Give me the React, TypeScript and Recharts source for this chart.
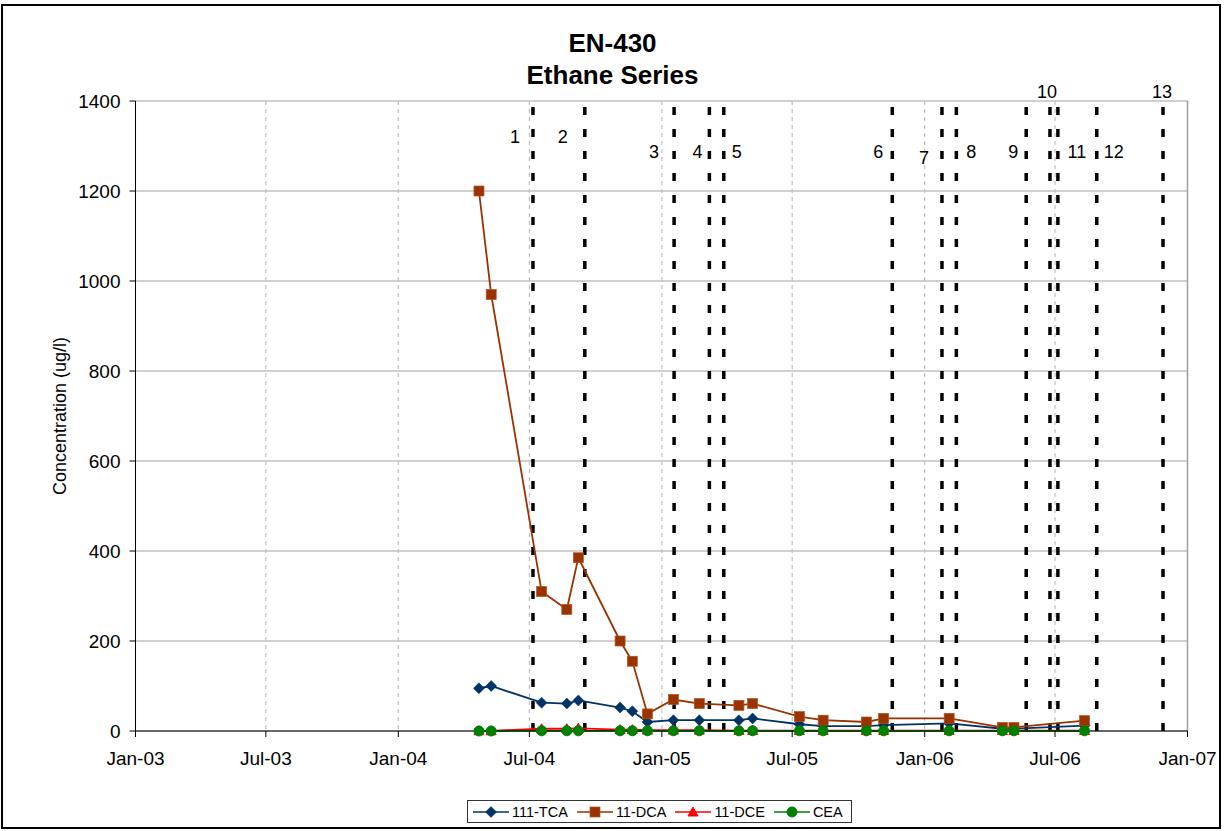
import React from 'react';
import { LineChart, Line, XAxis, YAxis, CartesianGrid, ReferenceLine, Legend } from 'recharts';

// ---- data ----
const SAMPLE_DATES = [
  '2004-04-22', '2004-05-09', '2004-07-18', '2004-08-22', '2004-09-07',
  '2004-11-04', '2004-11-21', '2004-12-12', '2005-01-17', '2005-02-22',
  '2005-04-18', '2005-05-07', '2005-07-11', '2005-08-13', '2005-10-12',
  '2005-11-05', '2006-02-04', '2006-04-19', '2006-05-05', '2006-08-11',
];
const TCA_111 = [95, 100, 63, 61, 68, 52, 44, 20, 24, 24, 24, 28, 15, 11, 11, 13, 17, 5, 5, 12];
const DCA_11 = [1200, 970, 310, 270, 385, 200, 155, 38, 70, 61, 57, 61, 32, 24, 20, 28, 28, 8, 8, 23];
const DCE_11 = [0.5, 0.5, 5, 5, 6, 3, 3, 2, 2, 2, 1, 1, 1, 1, 1, 1, 1, 1, 1, 1];
const CEA = [0, 0, 0.5, 0.5, 0.5, 0.5, 0.5, 0.5, 0.5, 0.5, 0.5, 0.5, 0.5, 0.5, 0.5, 0.5, 0.5, 0.5, 0.5, 0.5];

const SERIES_KEYS = ['tca', 'dca', 'dce', 'cea'];
const SERIES_NAMES = ['111-TCA', '11-DCA', '11-DCE', 'CEA'];

const X_TICK_DATES = [
  '2003-01-01', '2003-07-01', '2004-01-01', '2004-07-01', '2005-01-01',
  '2005-07-01', '2006-01-01', '2006-07-01', '2007-01-01',
];
const Y_TICKS = [0, 200, 400, 600, 800, 1000, 1200, 1400];

const EVENT_DATES = [
  '2004-07-06', '2004-09-16', '2005-01-18', '2005-03-08', '2005-03-28',
  '2005-11-17', '2006-01-25', '2006-02-14', '2006-05-22', '2006-06-24',
  '2006-07-05', '2006-08-28', '2006-11-28',
];
const EVENT_LABELS = ['1', '2', '3', '4', '5', '6', '7', '8', '9', '10', '11', '12', '13'];

// label placement (layout only)
const EVENT_LABEL_LAYOUT = [
  { dx: -18, y: 137 }, { dx: -22, y: 137 }, { dx: -20, y: 152 }, { dx: -12, y: 152 },
  { dx: 13, y: 152 }, { dx: -14, y: 152 }, { dx: -18, y: 158 }, { dx: 15, y: 152 },
  { dx: -13, y: 152 }, { dx: -3, y: 92 }, { dx: 19, y: 152 }, { dx: 17, y: 152 },
  { dx: -1, y: 92 },
];

const MONTHS = ['Jan', 'Feb', 'Mar', 'Apr', 'May', 'Jun', 'Jul', 'Aug', 'Sep', 'Oct', 'Nov', 'Dec'];
const ts = (s: string) => {
  const [y, m, d] = s.split('-').map(Number);
  return Date.UTC(y, m - 1, d);
};
const fmtTick = (v: number) => {
  const d = new Date(v);
  return `${MONTHS[d.getUTCMonth()]}-${String(d.getUTCFullYear() % 100).padStart(2, '0')}`;
};

const tableData = SAMPLE_DATES.map((d, i) => ({
  t: ts(d),
  tca: TCA_111[i],
  dca: DCA_11[i],
  dce: DCE_11[i],
  cea: CEA[i],
}));

const FONT = 'Liberation Sans, Arial, sans-serif';
const C_TCA = '#003366';
const C_DCA = '#993300';
const C_DCE = '#ff0000';
const C_CEA = '#008000';

const Diamond = ({ cx, cy, color, r = 5.5 }: any) => (
  <path d={`M${cx},${cy - r}L${cx + r},${cy}L${cx},${cy + r}L${cx - r},${cy}Z`} fill={color} stroke={color} strokeWidth={0.5} />
);
const Square = ({ cx, cy, color, r = 5 }: any) => (
  <rect x={cx - r} y={cy - r} width={2 * r} height={2 * r} fill={color} stroke="#b8521f" strokeWidth={0.7} />
);
const Triangle = ({ cx, cy, color, r = 5 }: any) => (
  <path d={`M${cx},${cy - r}L${cx + r},${cy + r * 0.8}L${cx - r},${cy + r * 0.8}Z`} fill={color} stroke={color} />
);
const Circle = ({ cx, cy, color, r = 5 }: any) => <circle cx={cx} cy={cy} r={r} fill={color} stroke={color} />;

const SHAPES: Record<string, any> = { tca: Diamond, dca: Square, dce: Triangle, cea: Circle };
const COLORS: Record<string, string> = { tca: C_TCA, dca: C_DCA, dce: C_DCE, cea: C_CEA };

const makeDot = (key: string) => (props: any) => {
  const { cx, cy, index } = props;
  if (cx == null || cy == null) return <g key={`${key}-${index}`} />;
  const S = SHAPES[key];
  return <S key={`${key}-${index}`} cx={cx} cy={cy} color={COLORS[key]} />;
};

const LegendContent = () => (
  <div
    style={{
      boxSizing: 'border-box',
      border: '1px solid #333',
      background: '#fff',
      height: 23,
      width: 385,
      display: 'flex',
      alignItems: 'center',
      paddingLeft: 5,
      fontFamily: FONT,
      fontSize: 14.5,
      color: '#000',
      whiteSpace: 'nowrap',
    }}
  >
    {SERIES_KEYS.map((key, i) => {
      const S = SHAPES[key];
      return (
        <div key={key} style={{ display: 'flex', alignItems: 'center', marginRight: 9 }}>
          <svg width={36} height={14} style={{ display: 'block' }}>
            <line x1={0} y1={7} x2={36} y2={7} stroke={COLORS[key]} strokeWidth={1.5} />
            <S cx={18} cy={7} color={COLORS[key]} />
          </svg>
          <span style={{ marginLeft: 3 }}>{SERIES_NAMES[i]}</span>
        </div>
      );
    })}
  </div>
);

const EventLabel = (idx: number) => (props: any) => {
  const vb = props.viewBox || {};
  const L = EVENT_LABEL_LAYOUT[idx];
  return (
    <text
      x={(vb.x ?? 0) + L.dx}
      y={L.y}
      textAnchor="middle"
      dominantBaseline="central"
      fontFamily={FONT}
      fontSize={18}
      fill="#000"
    >
      {EVENT_LABELS[idx]}
    </text>
  );
};

const YLabel = (props: any) => {
  const vb = props.viewBox || {};
  const x = 60;
  const y = (vb.y ?? 101) + (vb.height ?? 630) / 2;
  return (
    <text
      x={x}
      y={y}
      transform={`rotate(-90, ${x}, ${y})`}
      textAnchor="middle"
      dominantBaseline="central"
      fontFamily={FONT}
      fontSize={18}
      fill="#000"
    >
      Concentration (ug/l)
    </text>
  );
};

export default function App() {
  return (
    <div style={{ position: 'absolute', left: 0, top: 0, width: 1225, height: 831, background: '#fff' }}>
      <div
        style={{
          position: 'absolute',
          left: 1,
          top: 4,
          width: 1220,
          height: 825,
          border: '2px solid #000',
          boxSizing: 'border-box',
        }}
      />
      <svg width={1225} height={100} style={{ position: 'absolute', left: 0, top: 0 }}>
        <text x={612.5} y={52} textAnchor="middle" fontFamily={FONT} fontWeight="bold" fontSize={26} fill="#000">
          EN-430
        </text>
        <text x={612.5} y={83.5} textAnchor="middle" fontFamily={FONT} fontWeight="bold" fontSize={26} fill="#000">
          Ethane Series
        </text>
      </svg>
      <div style={{ position: 'absolute', left: 0, top: 0 }}>
        <LineChart
          width={1225}
          height={831}
          data={tableData}
          margin={{ top: 101, right: 37.5, bottom: 70, left: 65.5 }}
        >
          <CartesianGrid horizontal vertical={false} stroke="#c0c0c0" strokeWidth={1.5} />
          <CartesianGrid horizontal={false} vertical stroke="#c0c0c0" strokeDasharray="4 4" strokeWidth={1.2} />
          <XAxis
            dataKey="t"
            type="number"
            scale="time"
            domain={[ts(X_TICK_DATES[0]), ts(X_TICK_DATES[X_TICK_DATES.length - 1])]}
            ticks={X_TICK_DATES.map(ts)}
            tickFormatter={fmtTick}
            height={30}
            tickSize={6}
            tickMargin={15}
            stroke="#000"
            tick={{ fill: '#000', fontFamily: FONT, fontSize: 19 }}
            allowDataOverflow
          />
          <YAxis
            type="number"
            domain={[0, 1400]}
            ticks={Y_TICKS}
            width={70}
            tickSize={6}
            tickMargin={9}
            stroke="#000"
            tick={{ fill: '#000', fontFamily: FONT, fontSize: 19 }}
            label={<YLabel />}
          />
          <ReferenceLine x={ts(X_TICK_DATES[X_TICK_DATES.length - 1])} stroke="#a0a0a0" strokeWidth={1.5} />
          {EVENT_DATES.map((d, i) => (
            <ReferenceLine
              key={`ev-${i}`}
              x={ts(d)}
              stroke="#000"
              strokeWidth={3.5}
              strokeDasharray="8 14"
              label={EventLabel(i)}
            />
          ))}
          <Legend
            verticalAlign="middle"
            align="center"
            layout="horizontal"
            wrapperStyle={{ left: 467, top: 800, width: 385, height: 23 }}
            content={<LegendContent />}
          />
          <Line type="linear" dataKey="tca" name="111-TCA" stroke={C_TCA} strokeWidth={1.8} dot={makeDot('tca')} isAnimationActive={false} />
          <Line type="linear" dataKey="dca" name="11-DCA" stroke={C_DCA} strokeWidth={1.8} dot={makeDot('dca')} isAnimationActive={false} />
          <Line type="linear" dataKey="dce" name="11-DCE" stroke={C_DCE} strokeWidth={1.8} dot={makeDot('dce')} isAnimationActive={false} />
          <Line type="linear" dataKey="cea" name="CEA" stroke={C_CEA} strokeWidth={1.8} dot={makeDot('cea')} isAnimationActive={false} />
        </LineChart>
      </div>
    </div>
  );
}
